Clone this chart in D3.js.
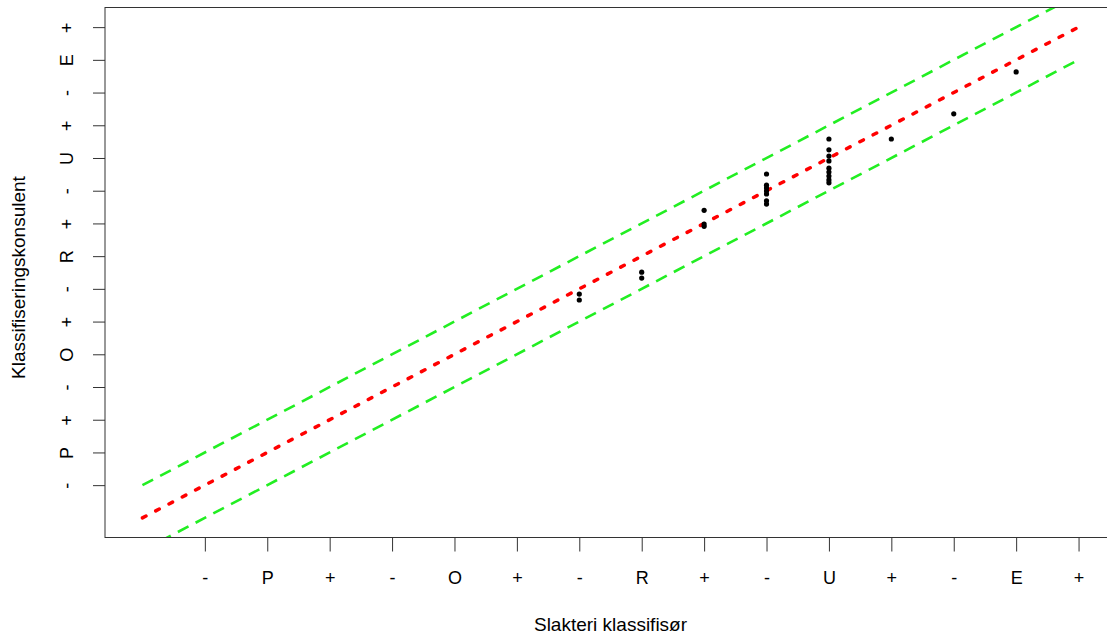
<!DOCTYPE html>
<html><head><meta charset="utf-8">
<script src="https://cdn.jsdelivr.net/npm/d3@7"></script>
<style>body{margin:0;background:#fff;} text{font-family:"Liberation Sans",Arial,sans-serif;fill:#000;}</style>
</head><body>
<svg id="c" width="1107" height="641"></svg>
<script>
const tickLabels = ["-","P","+","-","O","+","-","R","+","-","U","+","-","E","+"];
const tickValues = [1,2,3,4,5,6,7,8,9,10,11,12,13,14,15];
const slakteri = [7,7,8,8,9,9,9,10,10,10,10,10,10,10,11,11,11,11,11,11,11,11,11,12,13,14];
const konsulent = [6.84,6.66,7.51,7.33,9.40,8.98,8.91,10.51,10.17,10.08,9.99,9.90,9.69,9.59,11.58,11.25,11.06,10.91,10.69,10.57,10.45,10.33,10.24,11.58,12.35,13.63];
const lineRange = [0,15];
const lineOffsets = [0,1,-1];
const xLabel = "Slakteri klassifisør";
const yLabel = "Klassifiseringskonsulent";

const svg = d3.select("#c");
const L=105, R=1116, T=7.5, B=537.5;
const x = d3.scaleLinear().domain([-0.6,15.6]).range([L,R]);
const y = d3.scaleLinear().domain([-0.6,15.6]).range([B,T]);

svg.append("clipPath").attr("id","clip").append("rect")
  .attr("x",L).attr("y",T).attr("width",R-L).attr("height",B-T);

const lineGen = d3.line().x(d=>x(d[0])).y(d=>y(d[1]));
lineOffsets.forEach(off=>{
  const pts = lineRange.map(v=>[v, v+off]);
  const isMain = off===0;
  svg.append("path").attr("clip-path","url(#clip)")
    .attr("d", lineGen(pts)).attr("fill","none")
    .attr("stroke", isMain ? "#ff0000" : "#22ee22")
    .attr("stroke-width", isMain ? 3.5 : 2.6)
    .attr("stroke-linecap", isMain ? "round" : "butt")
    .attr("stroke-dasharray", isMain ? "4,11" : "12,8");
});

svg.append("g").selectAll("circle").data(slakteri.map((v,i)=>[v,konsulent[i]]))
  .join("circle").attr("cx",d=>x(d[0])).attr("cy",d=>y(d[1])).attr("r",2.6).attr("fill","#000");

svg.append("rect").attr("x",L).attr("y",T).attr("width",R-L).attr("height",B-T)
  .attr("fill","none").attr("stroke","#333").attr("stroke-width",1);

const xAxis = d3.axisBottom(x).tickValues(tickValues).tickFormat((d,i)=>tickLabels[i]).tickSize(14).tickPadding(24).tickSizeOuter(0);
const gx = svg.append("g").attr("transform",`translate(0,${B})`).call(xAxis);
gx.select(".domain").remove();
gx.selectAll(".tick line").attr("stroke","#333");
gx.selectAll(".tick text").attr("dy","0.35em").attr("y",40).style("font-size","18px").style("font-family","Liberation Sans, Arial, sans-serif");

const yAxis = d3.axisLeft(y).tickValues(tickValues).tickFormat((d,i)=>tickLabels[i]).tickSize(12).tickPadding(0).tickSizeOuter(0);
const gy = svg.append("g").attr("transform",`translate(${L},0)`).call(yAxis);
gy.select(".domain").remove();
gy.selectAll(".tick line").attr("stroke","#333");
gy.selectAll(".tick text").attr("x",0)
  .attr("text-anchor","middle")
  .attr("transform","translate(-38,0) rotate(-90)")
  .attr("dy","0.35em")
  .style("font-size","18px").style("font-family","Liberation Sans, Arial, sans-serif");

svg.append("text").attr("x",(L+R)/2).attr("y",631).attr("text-anchor","middle")
  .style("font-size","19px").text(xLabel);
svg.append("text").attr("transform",`translate(25,${(T+B)/2+5}) rotate(-90)`).attr("text-anchor","middle")
  .style("font-size","19px").text(yLabel);
</script>
</body></html>
